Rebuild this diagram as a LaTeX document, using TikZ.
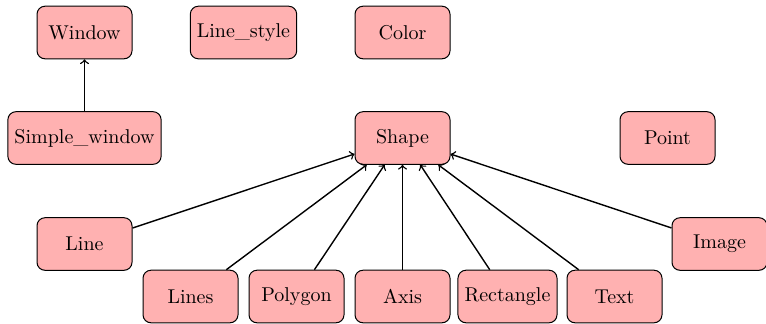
\documentclass[tikz,border=0pt]{standalone}
\usetikzlibrary{arrows}
\definecolor{boxfill}{RGB}{255,177,177}
\begin{document}
\begin{tikzpicture}[x=0.5pt,y=-0.5pt,
  cls/.style={draw=black, fill=boxfill, rounded corners=4pt, line width=0.5pt,
    minimum width=47.5pt, minimum height=26.3pt, inner sep=3.3pt, font=\fontsize{10}{12}\selectfont},
  inh/.style={->, line width=0.7pt}]
\useasboundingbox (0,0) rectangle (766,323);
\node[cls] (window) at (84.5,32.5) {Window};
\node[cls] (linestyle) at (243.5,32.5) {Line\_style};
\node[cls] (color) at (402.5,32.5) {Color};
\node[cls] (simple) at (84.5,138) {Simple\_window};
\node[cls] (shape) at (402.5,138) {Shape};
\node[cls] (point) at (667.5,138) {Point};
\node[cls] (line) at (84.5,244) {Line};
\node[cls] (image) at (719.5,244) {Image};
\node[cls] (lines) at (190.5,296.5) {Lines};
\node[cls] (polygon) at (296.5,296.5) {Polygon};
\node[cls] (axis) at (402.5,296.5) {Axis};
\node[cls] (rect) at (507.5,296.5) {Rectangle};
\node[cls] (text) at (614.5,296.5) {Text};
\draw[inh] (simple) -- (window);
\foreach \n in {line,lines,polygon,axis,rect,text,image}
  \draw[inh] (\n) -- (shape);
\end{tikzpicture}
\end{document}
